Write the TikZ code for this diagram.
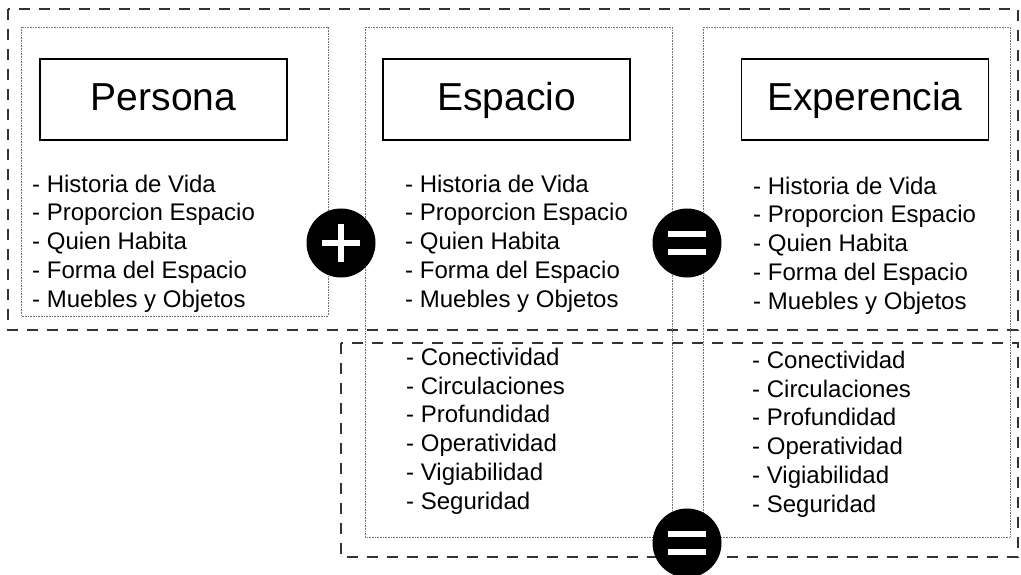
\documentclass[tikz,border=0pt]{standalone}
\usepackage{fontspec}
\setmainfont{Liberation Sans}
\begin{document}
\begin{tikzpicture}[x=10pt,y=10pt]
\tikzstyle{every node}+=[inner sep=0pt]
\tikzstyle{titlebox}=[draw=black,line width=1.5pt,minimum width=247pt,minimum height=81pt,text height=28.5pt,text depth=6.5pt,font=\fontsize{39}{40}\selectfont]
\tikzstyle{itemlist}=[align=left,anchor=base west,font=\fontsize{24}{28.7}\selectfont]
\tikzstyle{frame}=[black!55,line width=0.8pt,dash pattern=on 0.8pt off 0.8pt]
\tikzstyle{group}=[black!80,line width=1.6pt,dash pattern=on 11pt off 9pt]
\tikzstyle{sign}=[circle,fill=black,minimum size=69pt]
\tikzstyle{bar}=[white,line width=6.5pt]
\useasboundingbox (0,0) rectangle (102.1,-57.5);
% dashed groups
\draw [group] (0.8,-0.9) rectangle (101.8,-33.0);
\draw [group] (34.1,-34.3) rectangle (101.8,-55.7);
% dotted columns
\draw [frame] (2.1,-2.7) rectangle (32.8,-31.6);
\draw [frame] (36.5,-2.7) rectangle (67.2,-53.7);
\draw [frame] (70.3,-2.7) rectangle (101.0,-53.7);
% titles
\node [titlebox] (persona) at (16.35,-9.95) {Persona};
\node [titlebox] (espacio) at (50.65,-9.95) {Espacio};
\node [titlebox] (experencia) at (86.5,-9.95) {Experencia};
% lists (anchored at the last line)
\node [itemlist] (personalist) at (3.2,-30.7) {- Historia de Vida\\- Proporcion Espacio\\- Quien Habita\\- Forma del Espacio\\- Muebles y Objetos};
\node [itemlist] (espaciolist) at (40.5,-30.7) {- Historia de Vida\\- Proporcion Espacio\\- Quien Habita\\- Forma del Espacio\\- Muebles y Objetos};
\node [itemlist] (experencialist) at (75.3,-30.9) {- Historia de Vida\\- Proporcion Espacio\\- Quien Habita\\- Forma del Espacio\\- Muebles y Objetos};
\node [itemlist] (espaciolow) at (40.6,-50.9) {- Conectividad\\- Circulaciones\\- Profundidad\\- Operatividad\\- Vigiabilidad\\- Seguridad};
\node [itemlist] (experencialow) at (75.2,-51.2) {- Conectividad\\- Circulaciones\\- Profundidad\\- Operatividad\\- Vigiabilidad\\- Seguridad};
% signs
\node [sign] (plus) at (34.1,-24.3) {};
\draw [bar] ([xshift=-19pt]plus.center) -- ([xshift=19pt]plus.center);
\draw [bar] ([yshift=-19pt]plus.center) -- ([yshift=19pt]plus.center);
\node [sign] (eqtop) at (68.7,-24.3) {};
\draw [bar] ([xshift=-19pt,yshift=9pt]eqtop.center) -- ([xshift=19pt,yshift=9pt]eqtop.center);
\draw [bar] ([xshift=-19pt,yshift=-9pt]eqtop.center) -- ([xshift=19pt,yshift=-9pt]eqtop.center);
\node [sign] (eqlow) at (68.7,-54.3) {};
\draw [bar] ([xshift=-19pt,yshift=9pt]eqlow.center) -- ([xshift=19pt,yshift=9pt]eqlow.center);
\draw [bar] ([xshift=-19pt,yshift=-9pt]eqlow.center) -- ([xshift=19pt,yshift=-9pt]eqlow.center);
\end{tikzpicture}
\end{document}
